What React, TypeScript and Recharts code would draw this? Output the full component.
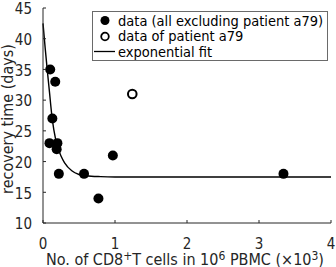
import React from "react";
import {
  ComposedChart,
  XAxis,
  YAxis,
  Scatter,
  Line,
  Legend,
} from "recharts";

// measured points (x in 10^3 cells, y in days)
const dataX = [0.1, 0.17, 0.13, 0.09, 0.2, 0.19, 0.22, 0.57, 0.77, 0.97, 3.34];
const dataY = [35, 33, 27, 23, 23, 22, 18, 18, 14, 21, 18];
const a79X = [1.24];
const a79Y = [31];

// fitted curve
const fitX = [0, 0.03, 0.06, 0.09, 0.12, 0.15, 0.2, 0.25, 0.3, 0.4, 0.5, 0.6, 0.8, 1, 2, 3, 4];
const fitY = [42.5, 38.5, 34.8, 31.3, 27.8, 25.2, 22.5, 20.9, 19.8, 18.5, 17.9, 17.7, 17.55, 17.5, 17.5, 17.5, 17.5];

const xTicks = [0, 1, 2, 3, 4];
const yTicks = [10, 15, 20, 25, 30, 35, 40, 45];

const INK = "#262626";
const FONT = "'DejaVu Sans Condensed', 'DejaVu Sans', sans-serif";

const points = dataX.map((x, i) => ({ x, y: dataY[i] }));
const a79 = a79X.map((x, i) => ({ x, y: a79Y[i] }));
const fit = fitX.map((x, i) => ({ x, y: fitY[i] }));

// x/y come in offset by the default tickSize + tickMargin (8px)
const XTick = ({ x, y, payload }: any) => (
  <g>
    <line x1={x} x2={x} y1={y - 8} y2={y - 11} stroke={INK} />
    <text x={x} y={y + 18} textAnchor="middle" fill={INK} fontSize={15} fontFamily={FONT} fontStretch="condensed">
      {payload.value}
    </text>
  </g>
);

const YTick = ({ x, y, payload }: any) => (
  <g>
    <line x1={x + 8} x2={x + 11} y1={y} y2={y} stroke={INK} />
    <text x={x - 3} y={y} dy="0.42em" textAnchor="end" fill={INK} fontSize={15} fontFamily={FONT} fontStretch="condensed">
      {payload.value}
    </text>
  </g>
);

const XLabel = ({ viewBox }: any) => (
  <text
    x={viewBox.x + viewBox.width / 2 - 2}
    y={viewBox.y + 42}
    textAnchor="middle"
    fill={INK}
    fontSize={16}
    fontFamily={FONT}
    fontStretch="condensed"
  >
    No. of CD8<tspan dy={-5} fontSize={12}>+</tspan>
    <tspan dy={5}>T cells in 10</tspan>
    <tspan dy={-5} fontSize={12}>6</tspan>
    <tspan dy={5}> PBMC (×10</tspan>
    <tspan dy={-5} fontSize={12}>3</tspan>
    <tspan dy={5}>)</tspan>
  </text>
);

const YLabel = () => (
  <text
    x={7}
    y={119}
    transform="rotate(-90 7 119)"
    textAnchor="middle"
    dominantBaseline="central"
    fill={INK}
    fontSize={16}
    fontFamily={FONT}
    fontStretch="condensed"
  >
    recovery time (days)
  </text>
);

function LegendBox() {
  const rows = [
    { label: "data (all excluding patient a79)", kind: "dot" },
    { label: "data of patient a79", kind: "ring" },
    { label: "exponential fit", kind: "line" },
  ];
  return (
    <div
      style={{
        border: "1px solid #6a6a6a",
        background: "#fff",
        fontFamily: FONT,
        fontStretch: "condensed",
        fontSize: 14.5,
        color: "#000",
        padding: "1px 0 2px 0",
        boxSizing: "border-box",
        width: "100%",
        height: "100%",
      }}
    >
      {rows.map((r) => (
        <div key={r.label} style={{ display: "flex", alignItems: "center", height: 15.5, whiteSpace: "nowrap" }}>
          <svg width={25} height={15} style={{ flex: "none" }}>
            {r.kind === "dot" && <circle cx={12} cy={7.5} r={4.5} fill="#000" />}
            {r.kind === "ring" && <circle cx={12} cy={7.5} r={3.8} fill="none" stroke="#000" strokeWidth={1.8} />}
            {r.kind === "line" && <line x1={1} x2={22} y1={7.5} y2={7.5} stroke="#000" strokeWidth={1.3} />}
          </svg>
          <span>{r.label}</span>
        </div>
      ))}
    </div>
  );
}

export default function App() {
  return (
    <div style={{ position: "absolute", left: 0, top: 0, width: 336, height: 267, background: "#fff" }}>
      <ComposedChart width={336} height={267} margin={{ top: 8, right: 5, bottom: 0, left: 0 }}>
        <XAxis
          type="number"
          dataKey="x"
          domain={[0, 4]}
          ticks={xTicks}
          interval={0}
          height={44}
          stroke={INK}
          tickLine={false}
          tick={XTick}
          label={XLabel}
        />
        <YAxis
          type="number"
          dataKey="y"
          domain={[10, 45]}
          ticks={yTicks}
          interval={0}
          width={43}
          stroke={INK}
          tickLine={false}
          tick={YTick}
          label={YLabel}
        />
        <Line
          data={fit}
          dataKey="y"
          type="monotone"
          stroke="#000"
          strokeWidth={1.4}
          dot={false}
          activeDot={false}
          isAnimationActive={false}
          legendType="none"
        />
        <Scatter
          data={points}
          dataKey="y"
          isAnimationActive={false}
          shape={({ cx, cy }: any) => <circle cx={cx} cy={cy} r={5} fill="#000" />}
        />
        <Scatter
          data={a79}
          dataKey="y"
          isAnimationActive={false}
          shape={({ cx, cy }: any) => (
            <circle cx={cx} cy={cy} r={4.3} fill="#fff" stroke="#000" strokeWidth={2} />
          )}
        />
        <Legend
          layout="vertical"
          align="center"
          verticalAlign="middle"
          content={() => <LegendBox />}
          wrapperStyle={{ top: 11, left: 92, width: 236, height: 50 }}
        />
      </ComposedChart>
    </div>
  );
}
